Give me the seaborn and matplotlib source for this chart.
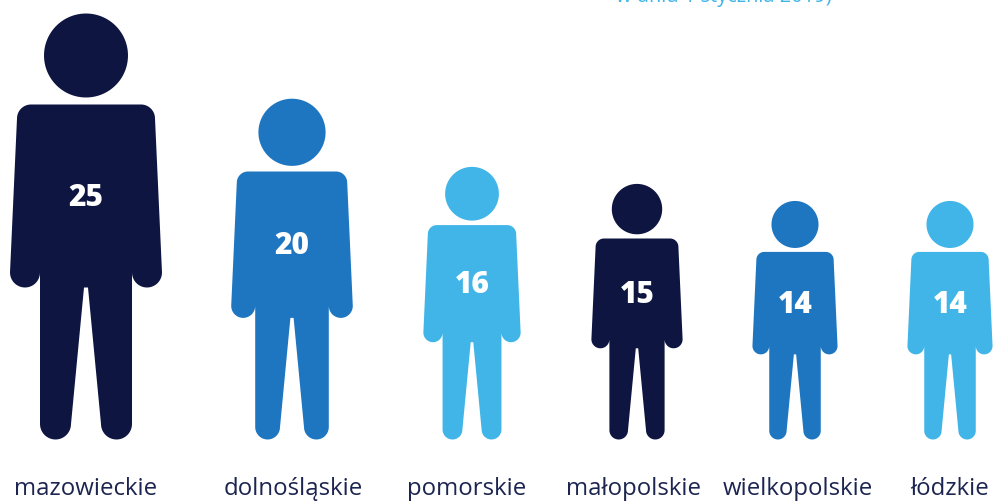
import numpy as np
import pandas as pd
import seaborn as sns
from matplotlib import pyplot as plt
from matplotlib.path import Path
from matplotlib.patches import PathPatch

regions = ["mazowieckie", "dolnośląskie", "pomorskie", "małopolskie", "wielkopolskie", "łódzkie"]
values = [25, 20, 16, 15, 14, 14]
colors = ["#0D1540", "#1F76C0", "#41B5E8", "#0D1540", "#1F76C0", "#41B5E8"]
caption = "w dniu 1 stycznia 2019)"

# layout, in pixels of the 993x502 canvas
figure_x = [86, 292, 472, 637, 795, 950]
label_x = [86, 293, 467, 633, 798, 950]
feet_y = 440.5
full_height = 426  # height of the person drawn for the top value

sns.set_theme(style="white")
plt.rcParams['font.family'] = ['Open Sans', 'DejaVu Sans']

df = pd.DataFrame({"region": regions, "value": values, "x": figure_x})

fig = plt.figure(figsize=(9.93, 5.02), dpi=100)
ax = fig.add_axes([0, 0, 1, 1])
sns.barplot(data=df, x="x", y="value", hue="region", palette=colors, saturation=1,
            native_scale=True, dodge=False, legend=False, ax=ax)

px = max(values) / full_height  # value units per pixel
ax.set_xlim(0, 993)
ax.set_ylim((feet_y - 502) * px, feet_y * px)
ax.set_axis_off()


def arc(cx, cy, r, a0, a1, n=24):
    t = np.radians(np.linspace(a0, a1, n))
    return np.column_stack([cx + r * np.cos(t), cy + r * np.sin(t)])


# right half of the silhouette, pixels from the feet centre at full height
half = np.vstack([
    [[0, 335]],
    arc(55, 321, 14, 90, 0),
    arc(61, 167, 15, 0, -180),
    arc(30.5, 15.5, 15.5, 0, -180),
    [[2, 152], [0, 152]],
])
body = np.vstack([half, (half * [-1, 1])[::-1]])
head = arc(0, 384, 42, 0, 360, n=90)

for bar, value in zip([b for b in ax.patches if b.get_height() > 0], values):
    cx = bar.get_x() + bar.get_width() / 2
    color = bar.get_facecolor()
    scale = bar.get_height() / max(values)
    bar.set_visible(False)
    for shape in (body, head):
        pts = np.column_stack([cx + shape[:, 0] * scale, shape[:, 1] * scale * px])
        ax.add_patch(PathPatch(Path(pts), facecolor=color, edgecolor="none"))
    ax.text(cx, bar.get_height() * 0.57, str(value), color="white", fontsize=21.5, fontweight="heavy",
            ha="center", va="center")

for x, region in zip(label_x, regions):
    ax.text(x, (feet_y - 495.5) * px, region, color="#1C2450", fontsize=17.3, ha="center", va="baseline")

ax.text(723.5, (feet_y - 2) * px, caption, color="#41B5E8", fontsize=14.4, ha="center", va="baseline")

plt.savefig('out.png', dpi=100)
